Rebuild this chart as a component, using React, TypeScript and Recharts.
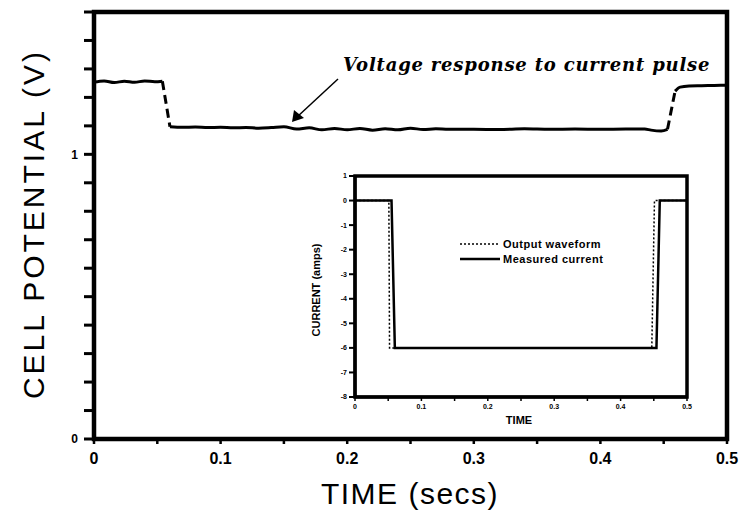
import { LineChart, Line, XAxis, YAxis, ReferenceArea, Legend } from 'recharts'

const SANS = '"Liberation Sans", Arial, sans-serif'

// main plot: cell potential (V) vs time (s)
const timeTicks = [0, 0.05, 0.1, 0.15, 0.2, 0.25, 0.3, 0.35, 0.4, 0.45, 0.5]
const potentialTicks = [0, 0.1, 0.2, 0.3, 0.4, 0.5, 0.6, 0.7, 0.8, 0.9, 1, 1.1, 1.2, 1.3, 1.4, 1.5]

// solid parts of the trace (null = break where the pen jumps)
const levelTimes = [
  0, 0.008, 0.016, 0.024, 0.032, 0.04, 0.048, 0.054,
  0.057,
  0.06, 0.07, 0.08, 0.09, 0.1, 0.11, 0.12, 0.13, 0.14, 0.15, 0.16, 0.17, 0.18, 0.19, 0.2,
  0.21, 0.22, 0.23, 0.24, 0.25, 0.26, 0.27, 0.28, 0.29, 0.3, 0.32, 0.34, 0.36, 0.38, 0.4,
  0.42, 0.435, 0.44, 0.448, 0.453,
  0.456,
  0.459, 0.463, 0.47, 0.48, 0.49, 0.5,
]
const levelVolts = [
  1.254, 1.258, 1.252, 1.257, 1.253, 1.258, 1.255, 1.257,
  null,
  1.097, 1.095, 1.096, 1.094, 1.095, 1.093, 1.094, 1.092, 1.094, 1.097, 1.089, 1.093, 1.086, 1.091, 1.086,
  1.091, 1.085, 1.09, 1.086, 1.092, 1.087, 1.09, 1.088, 1.088, 1.088, 1.087, 1.09, 1.088, 1.089, 1.088,
  1.089, 1.089, 1.085, 1.082, 1.088,
  null,
  1.222, 1.236, 1.24, 1.241, 1.242, 1.243,
]

// dashed transitions (drop at pulse start, recovery at pulse end)
const dropTimes = [0.054, 0.06]
const dropVolts = [1.257, 1.097]
const riseTimes = [0.453, 0.459]
const riseVolts = [1.088, 1.222]

// inset: current (amps) vs time
const insetTimeTicks = [0, 0.05, 0.1, 0.15, 0.2, 0.25, 0.3, 0.35, 0.4, 0.45, 0.5]
const currentTicks = [-8, -7, -6, -5, -4, -3, -2, -1, 0, 1]
const outputTimes = [0, 0.051, 0.052, 0.447, 0.451, 0.5]
const outputAmps = [0, 0, -6, -6, 0, 0]
const measuredTimes = [0, 0.055, 0.06, 0.454, 0.459, 0.5]
const measuredAmps = [0, 0, -6, -6, 0, 0]

const zip = (ts: number[], vs: (number | null)[]) => ts.map((t, i) => ({ t, v: vs[i] }))

const levelData = zip(levelTimes, levelVolts)
const dropData = zip(dropTimes, dropVolts)
const riseData = zip(riseTimes, riseVolts)
const outputData = zip(outputTimes, outputAmps)
const measuredData = zip(measuredTimes, measuredAmps)

const isTenth = (v: number) => Math.abs(v * 10 - Math.round(v * 10)) < 1e-6
const fmtTime = (v: number) => (isTenth(v) ? (v === 0 ? '0' : v.toFixed(1)) : '')
const fmtPotential = (v: number) => (v === 0 ? '0' : v === 1 ? '1' : '')

const legendStyles: Record<string, { dash?: string; width: number }> = {
  'Output waveform': { dash: '2 2', width: 1.5 },
  'Measured current': { width: 2.5 },
}
const legendOrder = ['Output waveform', 'Measured current']

function InsetLegend({ payload }: any) {
  const items = [...(payload || [])].sort(
    (a, b) => legendOrder.indexOf(a.value) - legendOrder.indexOf(b.value)
  )
  return (
    <div style={{ fontFamily: SANS, fontSize: 11, fontWeight: 700, letterSpacing: 0.5 }}>
      {items.map((entry) => {
        const s = legendStyles[entry.value] || { width: 2 }
        return (
          <div key={entry.value} style={{ display: 'flex', alignItems: 'center', height: 15 }}>
            <svg width={40} height={6} style={{ marginRight: 3 }}>
              <line x1={0} y1={3} x2={40} y2={3} stroke="#000" strokeWidth={s.width} strokeDasharray={s.dash} />
            </svg>
            <span>{entry.value}</span>
          </div>
        )
      })}
    </div>
  )
}

function CurrentInset() {
  return (
    <LineChart width={400} height={280} margin={{ top: 16, right: 13, bottom: 0, left: 0 }}>
      <XAxis
        type="number"
        dataKey="t"
        domain={[0, 0.5]}
        ticks={insetTimeTicks}
        interval={0}
        tickFormatter={fmtTime}
        height={43}
        tickSize={4}
        tickMargin={3}
        axisLine={{ stroke: '#000', strokeWidth: 3 }}
        tickLine={{ stroke: '#000', strokeWidth: 1.5 }}
        tick={{ fill: '#000', fontSize: 7, fontWeight: 700, fontFamily: SANS }}
        allowDataOverflow
      />
      <YAxis
        type="number"
        domain={[-8, 1]}
        ticks={currentTicks}
        interval={0}
        width={55}
        tickSize={6}
        tickMargin={2}
        axisLine={{ stroke: '#000', strokeWidth: 3 }}
        tickLine={{ stroke: '#000', strokeWidth: 2 }}
        tick={{ fill: '#000', fontSize: 7, fontWeight: 700, fontFamily: SANS }}
        allowDataOverflow
      />
      <ReferenceArea x1={0} x2={0.5} y1={-8} y2={1} fill="none" stroke="#000" strokeWidth={3.5} />
      <Line
        data={outputData}
        dataKey="v"
        name="Output waveform"
        type="linear"
        stroke="#000"
        strokeWidth={1.5}
        strokeDasharray="2 2"
        dot={false}
        isAnimationActive={false}
      />
      <Line
        data={measuredData}
        dataKey="v"
        name="Measured current"
        type="linear"
        stroke="#000"
        strokeWidth={2.5}
        dot={false}
        isAnimationActive={false}
      />
      <Legend
        layout="vertical"
        align="center"
        verticalAlign="middle"
        content={InsetLegend}
        wrapperStyle={{ position: 'absolute', left: 160, top: 76, width: 'auto' }}
      />
    </LineChart>
  )
}

export default function App() {
  return (
    <div style={{ position: 'absolute', left: 0, top: 0, width: 739, height: 511, background: '#fff', overflow: 'hidden' }}>
      <LineChart width={739} height={511} margin={{ top: 12, right: 12, bottom: 0, left: 0 }}>
        <XAxis
          type="number"
          dataKey="t"
          domain={[0, 0.5]}
          ticks={timeTicks}
          interval={0}
          tickFormatter={fmtTime}
          height={72}
          tickSize={5}
          tickMargin={9}
          axisLine={{ stroke: '#000', strokeWidth: 4 }}
          tickLine={{ stroke: '#000', strokeWidth: 2.5 }}
          tick={{ fill: '#000', fontSize: 16, fontWeight: 700, fontFamily: SANS }}
          allowDataOverflow
        />
        <YAxis
          type="number"
          domain={[0, 1.5]}
          ticks={potentialTicks}
          interval={0}
          tickFormatter={fmtPotential}
          width={94}
          tickSize={10}
          tickMargin={6}
          axisLine={{ stroke: '#000', strokeWidth: 4 }}
          tickLine={{ stroke: '#000', strokeWidth: 3 }}
          tick={{ fill: '#000', fontSize: 12, fontWeight: 700, fontFamily: SANS }}
          allowDataOverflow
        />
        <ReferenceArea x1={0} x2={0.5} y1={0} y2={1.5} fill="none" stroke="#000" strokeWidth={4.5} />
        <Line data={levelData} dataKey="v" type="monotone" stroke="#000" strokeWidth={3} dot={false} isAnimationActive={false} />
        <Line data={dropData} dataKey="v" type="linear" stroke="#000" strokeWidth={3} strokeDasharray="9 5" dot={false} isAnimationActive={false} />
        <Line data={riseData} dataKey="v" type="linear" stroke="#000" strokeWidth={3} strokeDasharray="9 5" dot={false} isAnimationActive={false} />
      </LineChart>

      <div style={{ position: 'absolute', left: 300, top: 160, width: 400, height: 280 }}>
        <CurrentInset />
      </div>

      <svg width={739} height={511} style={{ position: 'absolute', left: 0, top: 0, pointerEvents: 'none' }}>
        <text x={410} y={504} textAnchor="middle" fontFamily={SANS} fontSize={30} style={{ letterSpacing: '1.5px' }} fill="#000">
          TIME (secs)
        </text>
        <text
          x={0}
          y={0}
          transform="translate(44 224) rotate(-90)"
          textAnchor="middle"
          fontFamily={SANS}
          fontSize={30}
          style={{ letterSpacing: '3px' }}
          fill="#000"
        >
          CELL POTENTIAL (V)
        </text>
        <text x={519} y={424} textAnchor="middle" fontFamily={SANS} fontSize={11} fontWeight={700} fill="#000">
          TIME
        </text>
        <text
          x={0}
          y={0}
          transform="translate(320 290) rotate(-90)"
          textAnchor="middle"
          fontFamily={SANS}
          fontSize={11}
          fontWeight={700}
          fill="#000"
        >
          CURRENT (amps)
        </text>
        <text
          x={343}
          y={71}
          fontFamily='"DejaVu Serif", serif'
          fontStyle="italic"
          fontWeight={700}
          fontSize={18}
          style={{ letterSpacing: '0.8px' }}
          fill="#000"
        >
          Voltage response to current pulse
        </text>
        <line x1={338} y1={79} x2={297} y2={117} stroke="#000" strokeWidth={1.5} />
        <polygon points="292,122 294,110 304,118" fill="#000" />
      </svg>
    </div>
  )
}
